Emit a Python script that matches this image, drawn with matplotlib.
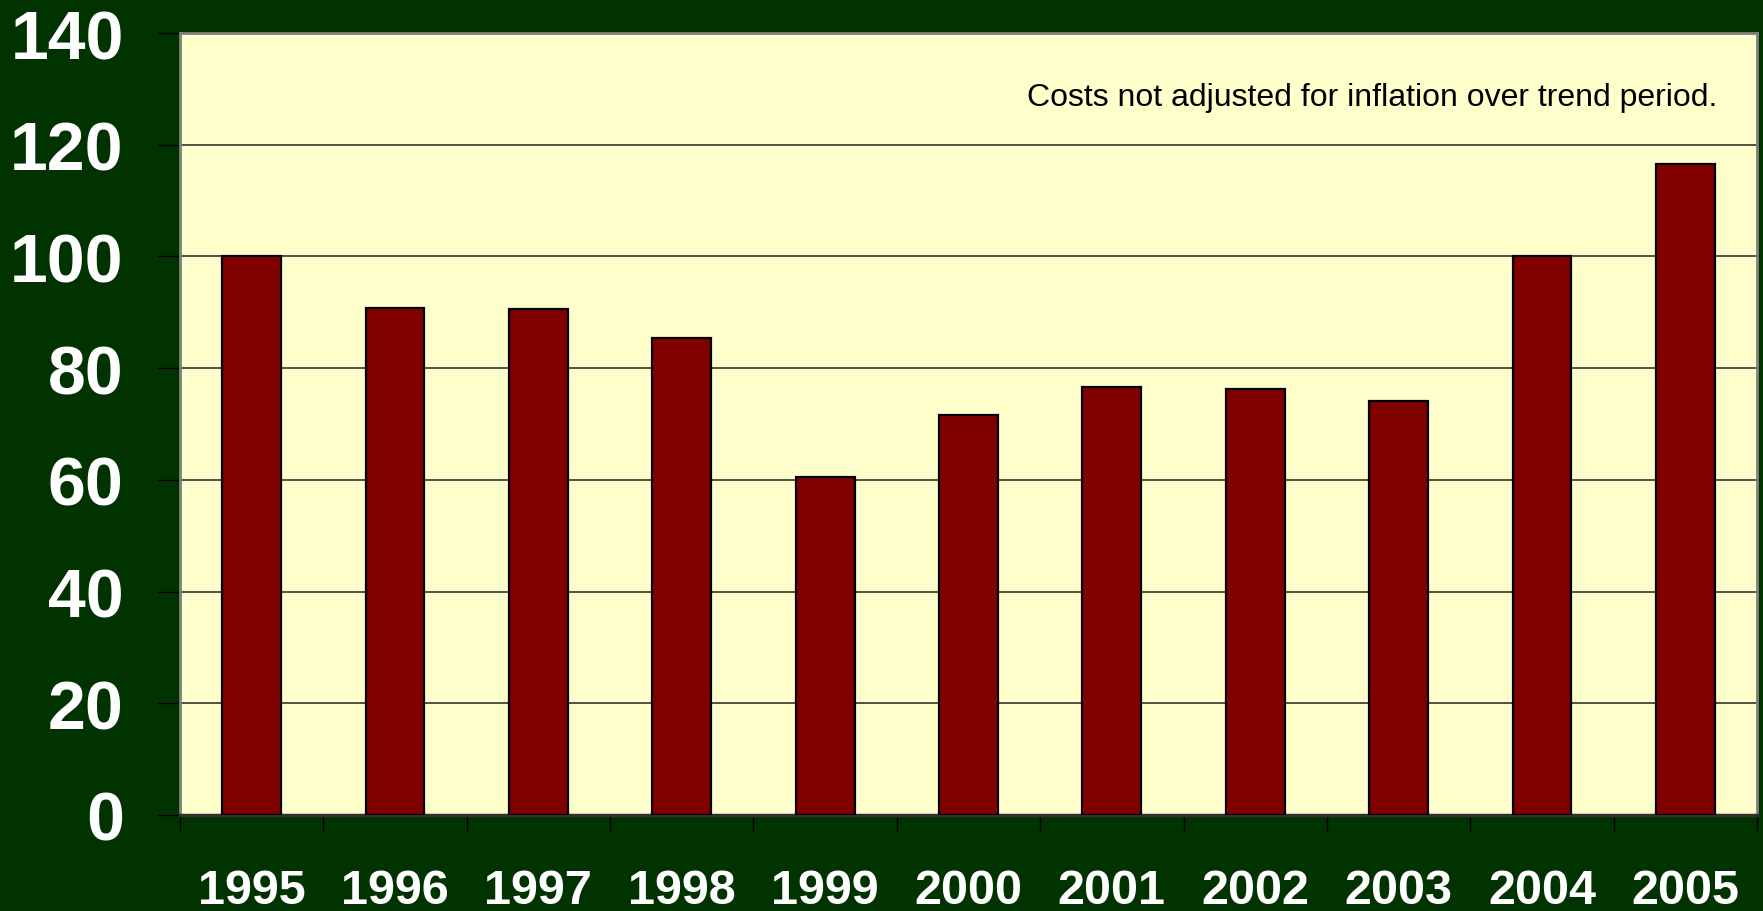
import numpy as np
import matplotlib.pyplot as plt

years = ["1995", "1996", "1997", "1998", "1999", "2000",
         "2001", "2002", "2003", "2004", "2005"]
values = [100.0, 90.8, 90.6, 85.4, 60.6, 71.6, 76.7, 76.2, 74.2, 100.0, 116.5]
yticks = [0, 20, 40, 60, 80, 100, 120, 140]
note = "Costs not adjusted for inflation over trend period."

plt.rcParams['font.family'] = ['Liberation Sans', 'DejaVu Sans']

fig = plt.figure(figsize=(17.63, 9.12), dpi=100, facecolor="#003300")
ax = fig.add_axes([180/1763, 96/912, 1577/1763, 782/912])
ax.set_facecolor("#FFFFCC")

x = np.arange(len(years))
ax.bar(x, values, width=0.41, color="#800000", edgecolor="black",
       linewidth=1.6, zorder=3)

ax.set_xlim(-0.5, len(years) - 0.5)
ax.set_ylim(0, 140)
ax.set_yticks(yticks)
ax.set_yticklabels([str(v) for v in yticks])
ax.yaxis.grid(True, color="#333333", linewidth=1.2, zorder=1)

ax.set_xticks(x)
ax.set_xticklabels(years)
ax.set_xticks(np.arange(-0.5, len(years)), minor=True)
ax.tick_params(axis="x", which="major", length=0, pad=38,
               labelsize=35, labelcolor="white")
ax.tick_params(axis="x", which="minor", length=11.5, width=1,
               color="black", direction="out")
ax.tick_params(axis="y", length=16.5, width=1, color="black",
               pad=24, labelsize=49, labelcolor="white")
for lab in ax.get_xticklabels() + ax.get_yticklabels():
    lab.set_fontweight("bold")

for side in ["left", "right", "top"]:
    ax.spines[side].set_color("#808080")
    ax.spines[side].set_linewidth(2)
ax.spines["bottom"].set_color("#303030")
ax.spines["bottom"].set_linewidth(2.5)

ax.text(0.975, 0.908, note, transform=ax.transAxes, ha="right",
        va="baseline", fontsize=23.0, color="black")

fig.savefig("out.png", dpi=100, facecolor=fig.get_facecolor())
